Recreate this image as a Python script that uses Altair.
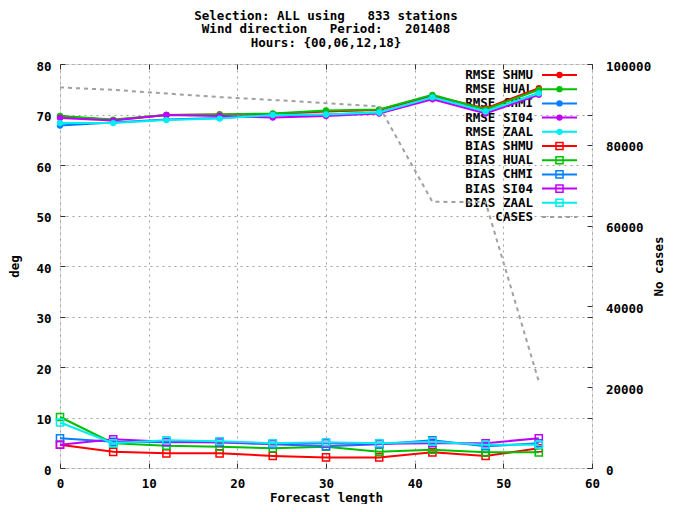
import altair as alt
import pandas as pd

# ---------------- data ----------------
steps = [0, 6, 12, 18, 24, 30, 36, 42, 48, 54]
stations = ["SHMU", "HUAL", "CHMI", "SI04", "ZAAL"]
station_colors = ["#ff0000", "#00c000", "#0080ff", "#c000ff", "#00eeee"]

rmse_shmu = [69.6, 68.9, 69.9, 70.0, 70.1, 70.6, 70.9, 73.7, 71.2, 75.2]
rmse_hual = [69.7, 69.0, 69.9, 70.0, 70.2, 70.8, 71.0, 73.9, 71.0, 74.9]
rmse_chmi = [67.8, 68.4, 69.0, 69.3, 69.9, 70.0, 70.4, 73.4, 70.6, 74.2]
rmse_si04 = [69.3, 68.8, 69.9, 69.7, 69.4, 69.7, 70.2, 73.0, 70.2, 73.9]
rmse_zaal = [68.3, 68.3, 68.9, 69.2, 69.9, 70.0, 70.4, 73.4, 70.6, 74.2]

bias_shmu = [4.6, 3.2, 2.9, 2.9, 2.4, 2.1, 2.1, 3.1, 2.4, 3.9]
bias_hual = [10.1, 4.9, 4.4, 4.2, 3.9, 4.2, 3.2, 3.6, 3.1, 3.1]
bias_chmi = [5.9, 5.2, 5.1, 5.1, 4.7, 4.3, 4.7, 5.5, 4.3, 4.9]
bias_si04 = [4.6, 5.7, 5.2, 5.1, 4.8, 4.9, 4.8, 4.9, 4.9, 5.9]
bias_zaal = [9.0, 4.9, 5.5, 5.3, 4.9, 5.1, 4.9, 5.2, 4.6, 4.6]

cases = [94200, 93600, 92700, 91800, 91100, 90300, 89500, 65900, 65800, 21400]

x_ticks = [0, 10, 20, 30, 40, 50, 60]
y_ticks = [0, 10, 20, 30, 40, 50, 60, 70, 80]
c_ticks = [0, 20000, 40000, 60000, 80000, 100000]

title_lines = [
    "Selection: ALL using\u00a0\u00a0\u00a0833 stations",
    "Wind direction\u00a0\u00a0\u00a0Period:\u00a0\u00a0\u00a0201408",
    "Hours: {00,06,12,18}",
]
legend_labels = [
    "RMSE SHMU", "RMSE HUAL", "RMSE CHMI", "RMSE SI04", "RMSE ZAAL",
    "BIAS SHMU", "BIAS HUAL", "BIAS CHMI", "BIAS SI04", "BIAS ZAAL",
    "CASES",
]

# ---------------- tables ----------------
rmse = [rmse_shmu, rmse_hual, rmse_chmi, rmse_si04, rmse_zaal]
bias = [bias_shmu, bias_hual, bias_chmi, bias_si04, bias_zaal]
rows = []
for metric, table in (("RMSE", rmse), ("BIAS", bias)):
    for st, vals in zip(stations, table):
        for s, v in zip(steps, vals):
            rows.append({"metric": metric, "station": st, "step": s, "value": v})
df = pd.DataFrame(rows)
cases_df = pd.DataFrame({"step": steps, "cases": cases})
leg_df = pd.DataFrame({
    "label": legend_labels,
    "kind": [l.split(" ")[0] for l in legend_labels],
    "key": [l.split(" ")[1] if " " in l else "CASES" for l in legend_labels],
})

# ---------------- styling ----------------
FONT = "DejaVu Sans Mono"
FS = 12.5
GRID = "#a0a0a0"
GRAY = "#a0a0a0"
BORDER = "#333333"
W, H = 532, 404

x_scale = alt.Scale(domain=[0, 60], nice=False, zero=False)
y_scale = alt.Scale(domain=[0, 80], nice=False, zero=False)
c_scale = alt.Scale(domain=[0, 100000], nice=False, zero=False)
color_scale = alt.Scale(domain=stations + ["CASES"], range=station_colors + [GRAY])

lab = dict(labelFont=FONT, labelFontSize=FS, labelFontWeight="bold", labelColor="black")
tit = dict(titleFont=FONT, titleFontSize=FS, titleFontWeight="bold", titleColor="black")
gridst = dict(grid=True, gridColor=GRID, gridDash=[2, 4], gridWidth=1)
tickst = dict(labels=False, domain=False, grid=False, ticks=True, tickSize=5,
              tickColor=BORDER, tickWidth=1, title=None)

x_main = alt.Axis(values=x_ticks, ticks=False, domain=False, labelPadding=9,
                  labelFlush=False, labelAngle=0, title="Forecast length",
                  titleX=266, titleY=33, titleAlign="center", titleBaseline="alphabetic",
                  **gridst, **lab, **tit)
x_in_bottom = alt.Axis(orient="top", offset=-H, values=x_ticks, **tickst)
x_in_top = alt.Axis(orient="bottom", offset=-H, values=x_ticks, **tickst)

y_main = alt.Axis(orient="left", values=y_ticks, ticks=False, domain=False,
                  labelPadding=9, labelOffset=2, title="deg", titleAngle=270,
                  titleX=-46, titleY=202, titleAlign="center", titleBaseline="middle",
                  **gridst, **lab, **tit)
y_in_left = alt.Axis(orient="right", offset=-W, values=y_ticks, **tickst)
y_in_right = alt.Axis(orient="left", offset=-W, values=y_ticks, **tickst)

c_main = alt.Axis(orient="right", values=c_ticks, format="d", grid=False, ticks=False,
                  domain=False, labelPadding=13.5, labelOffset=2, title="No cases",
                  titleAngle=270, titleX=66, titleY=202, titleAlign="center",
                  titleBaseline="middle", **lab, **tit)
c_in = alt.Axis(orient="left", offset=-W, values=c_ticks, **tickst)

# ---------------- legend (gnuplot style key) ----------------
leg_y = alt.Y("label:N", scale=alt.Scale(type="point", domain=legend_labels,
                                         range=[11, 153], padding=0), axis=None)
leg_color = alt.Color("key:N", scale=color_scale, legend=None)
leg_base = alt.Chart(leg_df)
leg_text = leg_base.mark_text(align="right", baseline="middle", font=FONT, fontSize=FS,
                              fontWeight="bold", color="black").encode(
    x=alt.value(473), y=leg_y, text="label:N")
leg_rule = leg_base.transform_filter(alt.datum.kind != "CASES").mark_rule(strokeWidth=2).encode(
    x=alt.value(482), x2=alt.value(517), y=leg_y, color=leg_color)
leg_cases = leg_base.transform_filter(alt.datum.kind == "CASES").mark_rule(
    strokeWidth=2, strokeDash=[4, 4]).encode(
    x=alt.value(482), x2=alt.value(517), y=leg_y, color=leg_color)
leg_rpts = leg_base.transform_filter(alt.datum.kind == "RMSE").mark_point(
    shape="circle", filled=True, size=40, opacity=1).encode(
    x=alt.value(499.5), y=leg_y, color=leg_color)
leg_bpts = leg_base.transform_filter(alt.datum.kind == "BIAS").mark_point(
    shape="square", filled=False, size=50, strokeWidth=1.5, opacity=1).encode(
    x=alt.value(499.5), y=leg_y, color=leg_color)
legend_layer = alt.layer(leg_text, leg_rule, leg_cases, leg_rpts, leg_bpts)

# ---------------- data layers ----------------
x_axes = [x_main, x_in_bottom, x_in_top]
y_axes = [y_main, y_in_left, y_in_right]
layers = []
i = 0
for metric in ["RMSE", "BIAS"]:
    for st, col in zip(stations, station_colors):
        base = alt.Chart(df).transform_filter(
            (alt.datum.metric == metric) & (alt.datum.station == st))
        xa = x_axes[i] if i < 3 else None
        ya = y_axes[i] if i < 3 else None
        line = base.mark_line(color=col, strokeWidth=2).encode(
            x=alt.X("step:Q", scale=x_scale, axis=xa),
            y=alt.Y("value:Q", scale=y_scale, axis=ya))
        if metric == "RMSE":
            pts = base.mark_point(shape="circle", filled=True, size=40, color=col, opacity=1)
        else:
            pts = base.mark_point(shape="square", filled=False, size=50, strokeWidth=1.5,
                                  color=col, opacity=1)
        pts = pts.encode(x=alt.X("step:Q", scale=x_scale, axis=None),
                         y=alt.Y("value:Q", scale=y_scale, axis=None))
        layers += [line, pts]
        i += 1
data_layer = alt.layer(*layers)

cases_line = alt.Chart(cases_df).mark_line(color=GRAY, strokeWidth=2, strokeDash=[4, 4]).encode(
    x=alt.X("step:Q", scale=x_scale, axis=None),
    y=alt.Y("cases:Q", scale=c_scale, axis=c_main))
cases_ticks = alt.Chart(cases_df).mark_line(strokeOpacity=0).encode(
    x=alt.X("step:Q", scale=x_scale, axis=None),
    y=alt.Y("cases:Q", scale=c_scale, axis=c_in))
cases_layer = alt.layer(cases_line, cases_ticks)

chart = alt.layer(legend_layer, data_layer, cases_layer).resolve_scale(
    y="independent"
).properties(
    width=W, height=H,
    padding={"left": 52, "top": 56, "right": 73, "bottom": 36},
    autosize=alt.AutoSizeParams(type="none"),
    title=alt.TitleParams(text=title_lines, font=FONT, fontSize=FS, fontWeight="bold",
                          color="black", anchor="middle", frame="group",
                          lineHeight=13.5, offset=11),
).configure_view(stroke=BORDER, strokeWidth=1).configure(background="white")

chart.save("out.html", embed_options={"renderer": "svg", "actions": False})
